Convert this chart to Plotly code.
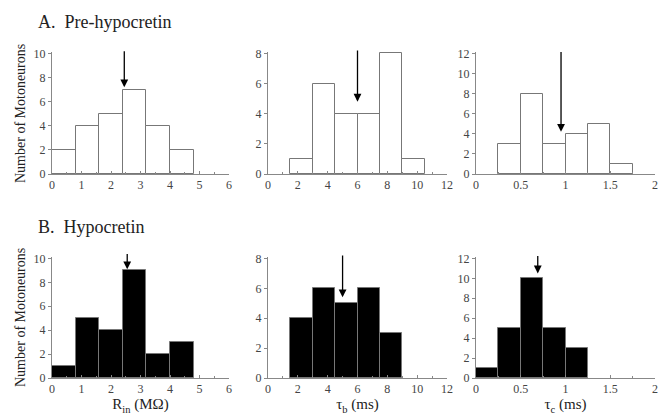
import plotly.graph_objects as go

# ---- data ----
rin_edges = [0, 0.8, 1.6, 2.4, 3.2, 4.0]
rin_width = 0.8
rin_pre = [2, 4, 5, 7, 4, 2]
rin_hyp = [1, 5, 4, 9, 2, 3]
rin_arrow_pre = (2.45, 10.3, 7.2)   # x, tail y, head y
rin_arrow_hyp = (2.55, 10.5, 9.1)

taub_edges = [1.5, 3.0, 4.5, 6.0, 7.5, 9.0]
taub_width = 1.5
taub_pre = [1, 6, 4, 4, 8, 1]
taub_edges_hyp = [1.5, 3.0, 4.5, 6.0, 7.5]
taub_hyp = [4, 6, 5, 6, 3]
taub_arrow_pre = (6.0, 8.3, 4.8)
taub_arrow_hyp = (5.0, 8.3, 5.4)

tauc_edges_pre = [0.25, 0.5, 0.75, 1.0, 1.25, 1.5]
tauc_width = 0.25
tauc_pre = [3, 8, 3, 4, 5, 1]
tauc_edges_hyp = [0.0, 0.25, 0.5, 0.75, 1.0]
tauc_hyp = [1, 5, 10, 5, 3]
tauc_arrow_pre = (0.95, 12.3, 4.2)
tauc_arrow_hyp = (0.69, 12.4, 10.5)

rin_ticks = [0, 1, 2, 3, 4, 5, 6]
taub_ticks = [0, 2, 4, 6, 8, 10, 12]
tauc_ticks = [0, 0.5, 1, 1.5, 2]
tauc_ticklabels = ["0", "0.5", "1", "1.5", "2"]
rin_yticks = [0, 2, 4, 6, 8, 10]
taub_yticks = [0, 2, 4, 6, 8]
tauc_yticks = [0, 2, 4, 6, 8, 10, 12]

x_titles = ["R<sub>in</sub> (MΩ)", "τ<sub>b</sub> (ms)", "τ<sub>c</sub> (ms)"]
row_titles = ["A.&nbsp;&nbsp;Pre-hypocretin", "B.&nbsp;&nbsp;Hypocretin"]
y_title = "Number of Motoneurons"

W, H = 661, 415
FONT = "Liberation Serif"
AXC = "#888888"
TXC = "#444444"

xdom = [(52 / W, 229 / W), (268 / W, 447 / W), (476 / W, 655 / W)]
ydom = {0: (1 - 174 / H, 1 - 52 / H), 1: (1 - 378 / H, 1 - 257 / H)}

xspec = [
    (rin_ticks, [str(t) for t in rin_ticks], 0.5, 6),
    (taub_ticks, [str(t) for t in taub_ticks], 1, 12),
    (tauc_ticks, tauc_ticklabels, 0.25, 2),
]
yspec = [(rin_yticks, 10), (taub_yticks, 8), (tauc_yticks, 12)]

panels = [
    (0, 0, rin_edges, rin_width, rin_pre, "white", rin_arrow_pre),
    (0, 1, taub_edges, taub_width, taub_pre, "white", taub_arrow_pre),
    (0, 2, tauc_edges_pre, tauc_width, tauc_pre, "white", tauc_arrow_pre),
    (1, 0, rin_edges, rin_width, rin_hyp, "black", rin_arrow_hyp),
    (1, 1, taub_edges_hyp, taub_width, taub_hyp, "black", taub_arrow_hyp),
    (1, 2, tauc_edges_hyp, tauc_width, tauc_hyp, "black", tauc_arrow_hyp),
]

fig = go.Figure()
annotations = []
layout = {}

for i, (r, c, edges, w, vals, fill, arrow) in enumerate(panels):
    n = i + 1
    xa = "x" if n == 1 else f"x{n}"
    ya = "y" if n == 1 else f"y{n}"
    fig.add_trace(go.Bar(
        x=edges, y=vals, width=[w] * len(vals), offset=0,
        marker=dict(color=fill, line=dict(color="#777777", width=1)),
        xaxis=xa, yaxis=ya, showlegend=False, hoverinfo="skip",
        cliponaxis=False,
    ))
    tv, tt, mt, xmax = xspec[c]
    ytv, ymax = yspec[c]
    xkey = "xaxis" if n == 1 else f"xaxis{n}"
    ykey = "yaxis" if n == 1 else f"yaxis{n}"
    xax = dict(
        domain=list(xdom[c]), anchor=ya, range=[0, xmax],
        tickmode="array", tickvals=tv, ticktext=tt,
        ticks="inside", ticklen=3, tickcolor=AXC,
        minor=dict(ticks="inside", ticklen=2, dtick=mt, tick0=0, tickcolor=AXC),
        showline=True, linecolor=AXC, linewidth=1,
        showgrid=False, zeroline=False, automargin=False,
        tickfont=dict(family=FONT, size=12, color=TXC),
    )
    if r == 1:
        xax["title"] = dict(text=x_titles[c],
                            font=dict(family=FONT, size=15, color="#222222"),
                            standoff=0)
    layout[xkey] = xax
    layout[ykey] = dict(
        domain=list(ydom[r]), anchor=xa, range=[0, ymax * 1.012],
        tickmode="array", tickvals=ytv,
        ticks="outside", ticklen=3, tickcolor=AXC,
        showline=True, linecolor=AXC, linewidth=1,
        showgrid=False, zeroline=False, automargin=False,
        tickfont=dict(family=FONT, size=12, color=TXC),
    )
    ax_x, tail_y, head_y = arrow
    annotations.append(dict(
        x=ax_x, y=head_y, ax=ax_x, ay=tail_y,
        xref=xa, yref=ya, axref=xa, ayref=ya,
        showarrow=True, arrowhead=2, arrowsize=1.2, arrowwidth=1.3,
        arrowcolor="black", text="",
    ))

for title, ty in zip(row_titles, [22, 227]):
    annotations.append(dict(
        text=title, xref="paper", yref="paper", x=36 / W, y=1 - ty / H,
        xanchor="left", yanchor="middle", showarrow=False,
        font=dict(family=FONT, size=18, color="#222222"),
    ))

for yc in [114, 318]:
    annotations.append(dict(
        text=y_title, xref="paper", yref="paper", x=20 / W, y=1 - yc / H,
        xanchor="center", yanchor="middle", textangle=-90, showarrow=False,
        font=dict(family=FONT, size=14, color="#222222"),
    ))

fig.update_layout(
    width=W, height=H, margin=dict(l=0, r=0, t=0, b=0),
    paper_bgcolor="white", plot_bgcolor="white",
    bargap=0, annotations=annotations, **layout,
)

fig.write_html(
    "out.html",
    config={"displayModeBar": False},
    post_script="document.body.style.margin='0';document.body.style.padding='0';",
)
